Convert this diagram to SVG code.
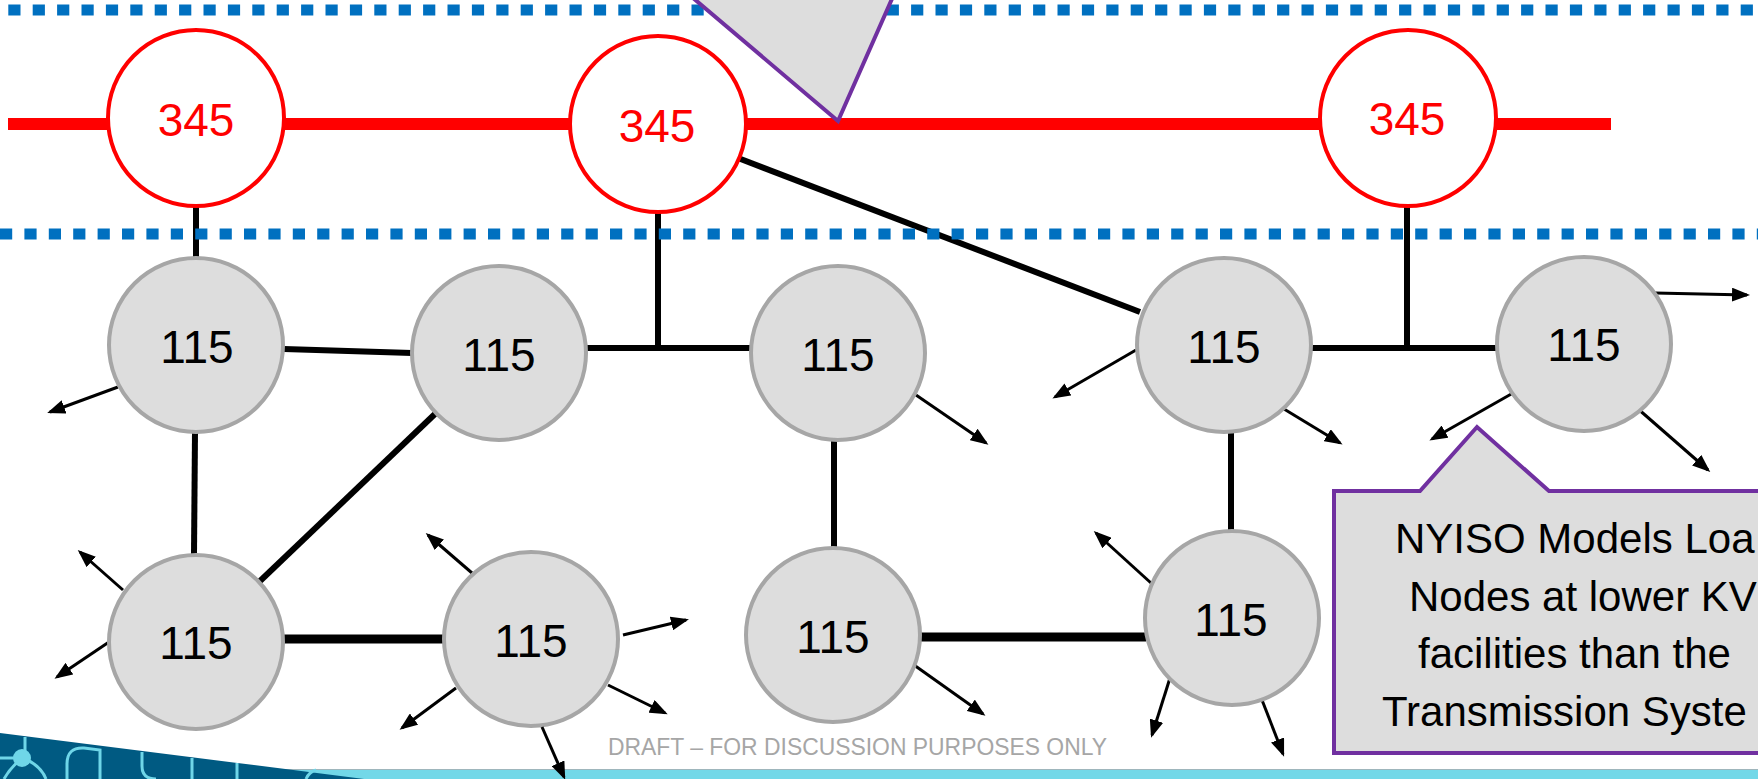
<svg xmlns="http://www.w3.org/2000/svg" width="1758" height="779" viewBox="0 0 1758 779">
  <style>
    .bus345 { fill: #ffffff; stroke: #ff0000; stroke-width: 4; }
    .t345 { font-family: "Liberation Sans", Arial, sans-serif; font-size: 46px; fill: #ff0000; text-anchor: middle; }
    .bus115 { fill: #dddddd; stroke: #a6a6a6; stroke-width: 4; }
    .t115 { font-family: "Liberation Sans", Arial, sans-serif; font-size: 46px; fill: #000000; text-anchor: middle; }
    .line { stroke: #000000; stroke-width: 6; fill: none; }
    .heavy { stroke: #000000; stroke-width: 9; fill: none; }
    .load { stroke: #000000; stroke-width: 3; fill: none; marker-end: url(#arrow); }
    .zone { stroke: #0070c0; stroke-width: 11; stroke-dasharray: 12.2 12.2; fill: none; }
    .callout { fill: #dddddd; stroke: #7030a0; stroke-width: 4; stroke-linejoin: miter; }
    .note { font-family: "Liberation Sans", Arial, sans-serif; font-size: 42px; fill: #000000; }
    .draft { font-family: "Liberation Sans", Arial, sans-serif; font-size: 24px; fill: #a6a6a6; }
    .trace { fill: none; stroke: #6fd6e8; stroke-width: 3; }
  </style>
  <defs>
    <marker id="arrow" markerUnits="userSpaceOnUse" viewBox="0 0 18 14" markerWidth="18" markerHeight="14" refX="15" refY="7" orient="auto">
      <path d="M0,0 L18,7 L0,14 Z" fill="#000000"/>
    </marker>
  </defs>

  <rect x="0" y="0" width="1758" height="779" fill="#ffffff"/>

  <!-- 345 kV backbone -->
  <line x1="8" y1="124" x2="1611" y2="124" stroke="#ff0000" stroke-width="12"/>

  <!-- connectors -->
  <g id="connectors">
    <line class="line" x1="196" y1="206" x2="196" y2="260"/>
    <line class="line" x1="658" y1="210" x2="658" y2="348"/>
    <line class="line" x1="1407" y1="205" x2="1407" y2="348"/>
    <line class="line" x1="738" y1="158" x2="1140" y2="312"/>
    <line class="line" x1="284" y1="349" x2="412" y2="353"/>
    <line class="line" x1="586" y1="348" x2="752" y2="348"/>
    <line class="line" x1="1311" y1="348" x2="1498" y2="348"/>
    <line class="line" x1="195" y1="432" x2="194" y2="555"/>
    <line class="line" x1="436" y1="413" x2="259" y2="582"/>
    <line class="line" x1="834" y1="440" x2="834" y2="548"/>
    <line class="line" x1="1231" y1="432" x2="1231" y2="533"/>
    <line class="heavy" x1="283" y1="639" x2="445" y2="639"/>
    <line class="heavy" x1="917" y1="637" x2="1146" y2="637"/>

    <!-- load withdrawals -->
    <line class="load" x1="118" y1="387" x2="50" y2="412"/>
    <line class="load" x1="916" y1="395" x2="986" y2="443"/>
    <line class="load" x1="1136" y1="350" x2="1055" y2="397"/>
    <line class="load" x1="1284" y1="409" x2="1340" y2="443"/>
    <line class="load" x1="1655" y1="293" x2="1747" y2="295"/>
    <line class="load" x1="1513" y1="393" x2="1432" y2="439"/>
    <line class="load" x1="1637" y1="408" x2="1708" y2="470"/>
    <line class="load" x1="123" y1="590" x2="80" y2="552"/>
    <line class="load" x1="109" y1="642" x2="57" y2="677"/>
    <line class="load" x1="472" y1="573" x2="428" y2="535"/>
    <line class="load" x1="623" y1="635" x2="686" y2="620"/>
    <line class="load" x1="456" y1="688" x2="402" y2="728"/>
    <line class="load" x1="608" y1="685" x2="665" y2="713"/>
    <line class="load" x1="914" y1="665" x2="983" y2="714"/>
    <line class="load" x1="1151" y1="583" x2="1096" y2="533"/>
    <line class="load" x1="1170" y1="678" x2="1152" y2="735"/>
    <line class="load" x1="1262" y1="700" x2="1283" y2="754"/>
  </g>

  <!-- 345 kV buses -->
  <g id="bus-345-a"><circle class="bus345" cx="196" cy="118" r="88"/><text class="t345" x="196" y="136">345</text></g>
  <g id="bus-345-b"><circle class="bus345" cx="658" cy="124" r="88"/><text class="t345" x="657" y="142">345</text></g>
  <g id="bus-345-c"><circle class="bus345" cx="1408" cy="118" r="88"/><text class="t345" x="1407" y="135">345</text></g>

  <!-- 115 kV buses -->
  <g id="bus-115-a"><circle class="bus115" cx="196" cy="345" r="87"/><text class="t115" x="197" y="363">115</text></g>
  <g id="bus-115-b"><circle class="bus115" cx="499" cy="353" r="87"/><text class="t115" x="499" y="371">115</text></g>
  <g id="bus-115-c"><circle class="bus115" cx="838" cy="353" r="87"/><text class="t115" x="838" y="371">115</text></g>
  <g id="bus-115-d"><circle class="bus115" cx="1224" cy="345" r="87"/><text class="t115" x="1224" y="363">115</text></g>
  <g id="bus-115-e"><circle class="bus115" cx="1584" cy="344" r="87"/><text class="t115" x="1584" y="361">115</text></g>
  <g id="bus-115-f"><circle class="bus115" cx="196" cy="642" r="87"/><text class="t115" x="196" y="659">115</text></g>
  <g id="bus-115-g"><circle class="bus115" cx="531" cy="639" r="87"/><text class="t115" x="531" y="657">115</text></g>
  <g id="bus-115-h"><circle class="bus115" cx="833" cy="635" r="87"/><text class="t115" x="833" y="653">115</text></g>
  <g id="bus-115-i"><circle class="bus115" cx="1232" cy="618" r="87"/><text class="t115" x="1231" y="636">115</text></g>

  <!-- zone boundaries -->
  <line class="zone" x1="8.3" y1="10" x2="1770" y2="10"/>
  <line class="zone" x1="0" y1="234" x2="1770" y2="234"/>

  <!-- callout pointer from above -->
  <g id="callout-top">
    <polygon class="callout" points="686,-8 838,121 895,-8"/>
  </g>

  <!-- callout box -->
  <g id="callout-note">
    <path class="callout" d="M1334,491 H1420 L1477,427 L1549,491 H1775 V753 H1334 Z"/>
    <text class="note" x="1395" y="553">NYISO Models Loa</text>
    <text class="note" x="1409" y="611">Nodes at lower KV</text>
    <text class="note" x="1418" y="668">facilities than the</text>
    <text class="note" x="1382" y="726">Transmission Syste</text>
  </g>

  <!-- footer band -->
  <rect x="0" y="769" width="1758" height="10" fill="#72d8e8"/>
  <line x1="0" y1="769.5" x2="1758" y2="769.5" stroke="#9fb6bc" stroke-width="1"/>
  <polygon points="0,733 364,779 0,779" fill="#005a82"/>
  <g class="trace">
    <path d="M25,737 V758"/>
    <path d="M0,758 H22"/>
    <path d="M22,758 Q40,764 46,779"/>
    <path d="M22,758 Q10,768 4,779"/>
    <path d="M67,779 V764 Q67,747 84,748 L100,750 V779"/>
    <path d="M142,752 V766 Q142,779 156,779"/>
    <path d="M192,758 V779"/>
    <path d="M237,763 V779"/>
    <path d="M306,779 Q309,772 316,770"/>
  </g>
  <circle cx="22" cy="758" r="9" fill="#6fd6e8"/>
  <line class="load" x1="542" y1="727" x2="564" y2="777"/>

  <text class="draft" x="608" y="755" textLength="499" lengthAdjust="spacingAndGlyphs">DRAFT – FOR DISCUSSION PURPOSES ONLY</text>
</svg>
